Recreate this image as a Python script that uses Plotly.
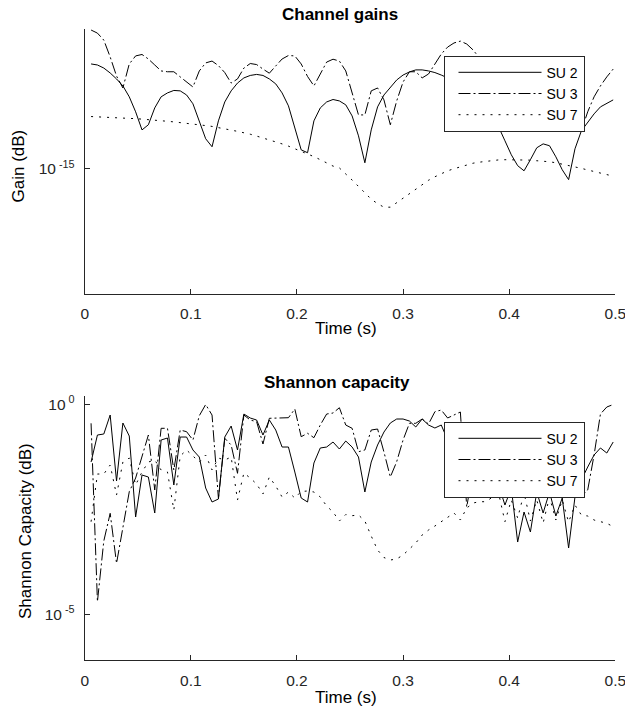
import plotly.graph_objects as go

# ---------------- data ----------------
# sample times (s): uniform 6 ms grid
time_s = [round(0.006 * k, 3) for k in range(1, 84)]

series_names = ["SU 2", "SU 3", "SU 7"]

# Channel gains, in dB (10*log10 of linear gain)
gain_su2_db = [
    -144.90, -144.95, -145.10, -145.34, -145.63, -145.97, -146.50, -147.23, -148.11, -147.86,
    -147.04, -146.50, -146.31, -146.19, -146.21, -146.41, -146.84, -147.72, -148.54, -148.93,
    -147.67, -146.75, -146.21, -145.83, -145.58, -145.46, -145.41, -145.46, -145.63, -145.87,
    -146.31, -146.94, -148.01, -149.08, -149.22, -147.67, -147.04, -146.75, -146.63, -146.70,
    -146.89, -147.43, -148.40, -149.71, -148.11, -146.99, -146.41, -146.02, -145.68, -145.44,
    -145.29, -145.19, -145.19, -145.24, -145.32, -145.44, -145.58, -145.78, -146.02, -146.31,
    -146.65, -146.99, -147.33, -147.62, -147.96, -148.64, -149.32, -149.85, -150.10, -149.56,
    -148.98, -148.79, -148.88, -149.42, -150.05, -150.53, -149.03, -148.16, -147.72, -147.33,
    -146.99, -146.80, -146.65,
]
gain_su3_db = [
    -143.25, -143.40, -143.74, -144.56, -145.49, -146.07, -144.90, -144.51, -144.44, -144.66,
    -144.95, -145.24, -145.28, -145.28, -145.53, -145.78, -146.02, -145.24, -144.85, -144.76,
    -144.98, -145.32, -145.83, -145.63, -145.10, -144.88, -144.93, -145.15, -145.35, -145.00,
    -144.66, -144.49, -144.51, -144.90, -145.51, -145.97, -145.39, -144.81, -144.67, -144.76,
    -145.24, -146.31, -147.38, -147.38, -146.21, -146.07, -146.65, -147.86, -146.70, -145.78,
    -145.28, -145.28, -145.58, -145.39, -144.90, -144.42, -144.08, -143.88, -143.79, -143.93,
    -144.22, -144.61, -145.00, -145.49, -145.97, -146.26, -145.97, -145.68, -145.68, -145.92,
    -146.17, -146.55, -146.94, -147.23, -147.48, -147.67, -147.77, -148.16, -147.23, -146.50,
    -145.97, -145.53, -145.15,
]
gain_su7_db = [
    -147.46, -147.48, -147.49, -147.50, -147.52, -147.53, -147.55, -147.56, -147.58, -147.60,
    -147.63, -147.66, -147.69, -147.72, -147.75, -147.79, -147.83, -147.86, -147.90, -147.94,
    -147.99, -148.05, -148.12, -148.18, -148.24, -148.32, -148.41, -148.50, -148.59, -148.69,
    -148.79, -148.90, -149.02, -149.14, -149.26, -149.41, -149.56, -149.72, -149.87, -149.96,
    -150.24, -150.55, -150.86, -151.17, -151.48, -151.70, -151.87, -151.87, -151.65, -151.41,
    -151.19, -150.97, -150.75, -150.56, -150.39, -150.24, -150.10, -150.00, -149.90, -149.82,
    -149.73, -149.68, -149.64, -149.60, -149.57, -149.56, -149.56, -149.56, -149.56, -149.58,
    -149.61, -149.63, -149.66, -149.71, -149.77, -149.84, -149.91, -149.98, -150.06, -150.14,
    -150.21, -150.29, -150.36,
]

# Shannon capacity, in dB (10*log10)
cap_su2_db = [
    -13.74, -7.31, -7.07, -2.55, -18.26, -4.45, -7.55, -26.83, -16.83, -17.31,
    -25.88, -8.50, -8.02, -19.21, -7.79, -7.79, -10.88, -12.55, -19.93, -23.26,
    -22.55, -7.79, -5.17, -10.88, -2.31, -3.26, -3.74, -7.31, -3.74, -6.12,
    -10.17, -10.17, -16.12, -22.31, -23.26, -13.98, -10.40, -10.17, -8.98, -10.64,
    -8.74, -10.17, -12.55, -20.88, -13.74, -9.69, -6.60, -4.45, -3.50, -3.50,
    -3.98, -5.40, -3.50, -4.93, -5.64, -4.93, -8.50, -12.07, -9.69, -14.45,
    -10.88, -15.64, -12.79, -17.55, -19.21, -23.98, -19.93, -32.79, -25.64, -30.40,
    -20.88, -25.88, -20.88, -26.60, -22.31, -34.21, -22.07, -18.02, -14.93, -12.07,
    -10.40, -11.60, -8.98,
]
cap_su3_db = [
    -4.52, -47.00, -32.55, -25.95, -37.86, -28.98, -20.81, -17.55, -12.48, -7.31,
    -20.40, -5.71, -5.71, -15.64, -6.12, -6.52, -8.50, -2.71, -0.05, -2.55,
    -22.38, -8.10, -9.69, -16.43, -2.55, -3.74, -4.14, -9.45, -3.33, -3.33,
    -3.19, -3.19, -1.12, -7.71, -6.90, -7.95, -4.93, -2.31, -2.07, -0.81,
    -4.93, -5.71, -11.29, -10.88, -6.12, -5.88, -11.36, -17.31, -13.67, -8.50,
    -4.52, -4.52, -3.50, -4.69, -1.76, -1.36, -3.26, -2.55, -1.83, -24.45,
    -15.64, -12.07, -9.69, -10.88, -8.50, -12.07, -9.69, -13.26, -10.88, -14.45,
    -12.07, -15.64, -13.26, -16.83, -14.45, -18.02, -16.83, -22.07, -20.40, -12.07,
    -2.31, -0.64, -0.05,
]
cap_su7_db = [
    -27.95, -16.60, -16.60, -14.45, -21.60, -13.74, -12.79, -19.21, -16.12, -13.74,
    -13.26, -15.64, -16.12, -25.17, -12.31, -10.88, -12.31, -13.74, -12.07, -15.64,
    -12.79, -13.26, -12.55, -22.79, -16.36, -17.55, -18.98, -21.36, -17.31, -19.45,
    -22.07, -20.88, -22.31, -20.76, -20.64, -20.88, -22.07, -24.21, -25.64, -27.79,
    -26.24, -26.52, -26.36, -27.79, -31.36, -34.69, -36.48, -37.07, -36.83, -35.88,
    -34.45, -33.02, -31.12, -29.93, -28.98, -27.95, -26.83, -25.88, -27.55, -24.69,
    -23.50, -23.19, -23.19, -22.07, -21.12, -27.95, -22.79, -27.07, -21.12, -27.79,
    -22.79, -28.26, -22.07, -27.55, -22.79, -28.02, -23.98, -26.36, -26.60, -27.55,
    -28.02, -28.33, -29.14,
]

x_tick_vals = [0, 0.1, 0.2, 0.3, 0.4, 0.5]
x_tick_text = ["0", "0.1", "0.2", "0.3", "0.4", "0.5"]
gain_tick_vals = [1e-15]
gain_tick_text = ["10<sup> -15</sup>"]
cap_tick_vals = [1e0, 1e-5]
cap_tick_text = ["10<sup> 0</sup>", "10<sup> -5</sup>"]

# ---------------- styling ----------------
W, H = 625, 715
FONT = "Liberation Sans, Arial, Helvetica, sans-serif"
AXC = "#262626"
dashes = ["solid", "12px,3px,2px,3px", "2px,6px"]


def from_db(vals):
    return [10 ** (v / 10.0) for v in vals]


def px_x(p):
    return p / W


def px_y(p):
    return 1 - p / H


fig = go.Figure()

for name, vals, dash in zip(series_names, [gain_su2_db, gain_su3_db, gain_su7_db], dashes):
    fig.add_trace(go.Scatter(
        x=time_s, y=from_db(vals), mode="lines", name=name,
        line=dict(color="black", width=1, dash=dash),
        xaxis="x", yaxis="y", legend="legend", hoverinfo="skip"))

for name, vals, dash in zip(series_names, [cap_su2_db, cap_su3_db, cap_su7_db], dashes):
    fig.add_trace(go.Scatter(
        x=time_s, y=from_db(vals), mode="lines", name=name,
        line=dict(color="black", width=1, dash=dash),
        xaxis="x2", yaxis="y2", legend="legend2", hoverinfo="skip"))

x_dom = [px_x(84.7), px_x(615.3)]

common_axis = dict(
    showline=True, linecolor=AXC, linewidth=1, mirror=False,
    ticks="inside", ticklen=5, tickcolor=AXC, tickwidth=1,
    showgrid=False, zeroline=False, fixedrange=True, automargin=False,
    ticklabeloverflow="allow", ticklabelstandoff=6,
    tickfont=dict(family=FONT, size=15.5, color=AXC),
)

legend_common = dict(
    xanchor="left", yanchor="top", bgcolor="white",
    bordercolor=AXC, borderwidth=1,
    font=dict(family=FONT, size=14, color="black"),
    itemwidth=83, indentation=9, tracegroupgap=0,
)

fig.update_layout(
    width=W, height=H,
    margin=dict(l=0, r=0, t=0, b=0, autoexpand=False),
    paper_bgcolor="white", plot_bgcolor="white",
    showlegend=True,
    xaxis=dict(domain=x_dom, anchor="y", range=[0, 0.5], tickvals=x_tick_vals,
               ticktext=x_tick_text, **common_axis),
    yaxis=dict(domain=[px_y(293.5), px_y(29)], anchor="x", type="log",
               range=[-15.607, -14.320], tickvals=gain_tick_vals,
               ticktext=gain_tick_text, **common_axis),
    xaxis2=dict(domain=x_dom, anchor="y2", range=[0, 0.5], tickvals=x_tick_vals,
                ticktext=x_tick_text, **common_axis),
    yaxis2=dict(domain=[px_y(660), px_y(396)], anchor="x2", type="log",
                range=[-6.088, 0.198], tickvals=cap_tick_vals,
                ticktext=cap_tick_text, **common_axis),
    legend=dict(x=px_x(443.5), y=px_y(55.7), **legend_common),
    legend2=dict(x=px_x(443.5), y=px_y(421.7), **legend_common),
)

annotations = [
    dict(text="<b>Channel gains</b>", x=px_x(340), y=px_y(15), size=17, angle=0),
    dict(text="Time (s)", x=px_x(346), y=px_y(329), size=17, angle=0),
    dict(text="Gain (dB)", x=px_x(17.5), y=px_y(166), size=17, angle=-90),
    dict(text="<b>Shannon capacity</b>", x=px_x(337), y=px_y(382), size=17, angle=0),
    dict(text="Time (s)", x=px_x(346), y=px_y(697), size=17, angle=0),
    dict(text="Shannon Capacity (dB)", x=px_x(25), y=px_y(531), size=17, angle=-90),
]
for a in annotations:
    fig.add_annotation(
        text=a["text"], x=a["x"], y=a["y"], xref="paper", yref="paper",
        xanchor="center", yanchor="middle", showarrow=False, textangle=a["angle"],
        font=dict(family=FONT, size=a["size"], color="black"))

fig.write_html(
    "out.html",
    config={"displayModeBar": False, "staticPlot": True},
    post_script="document.body.style.margin='0px';document.body.style.overflow='hidden';",
)
